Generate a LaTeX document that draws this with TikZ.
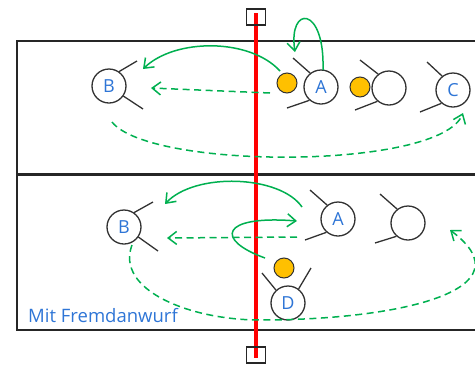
\documentclass[tikz,border=0pt]{standalone}
\usepackage{fontspec}
\setmainfont{Open Sans}
\usetikzlibrary{arrows.meta}
\definecolor{grn}{RGB}{0,176,80}
\definecolor{lblue}{RGB}{46,117,214}
\definecolor{ballc}{RGB}{255,192,0}
\definecolor{ink}{RGB}{50,50,50}
\begin{document}
\begin{tikzpicture}[x=1pt,y=-1pt,
  player/.style={circle,draw=ink,line width=1.3pt,fill=white,minimum size=34pt,inner sep=0pt,font=\fontsize{18}{18}\selectfont,text=lblue},
  arm/.style={draw=ink,line width=1.3pt},
  ballst/.style={circle,draw=ink,line width=1pt,fill=ballc,minimum size=20pt,inner sep=0pt},
  pass/.style={grn,line width=1.5pt,-{Straight Barb[length=8.5pt,width=13pt]}},
  run/.style={pass,dash pattern=on 7pt off 4.5pt},
  court/.style={draw=black!85},
  post/.style={draw=black!85,line width=1.2pt,minimum width=19pt,minimum height=16pt,inner sep=0pt}
]
\clip (0,0) rectangle (475,365);
\useasboundingbox (0,0) rectangle (475,365);
% court
\draw[court,line width=2pt] (485,41) -- (17,41) -- (17,330) -- (485,330);
\draw[court,line width=3pt] (17,174) -- (485,174);
% red line and posts
\coordinate (rt) at (256,13);
\coordinate (rb) at (256,358);
\draw[red,line width=3.5pt] (rt) -- (rb);
\node[post] (sqT) at (256,17) {};
\node[post] (sqB) at (256,355) {};
% top court players
\node[player] (B) at (109,86) {B};
\draw[arm] (B.55) -- (137,61);
\draw[arm] (B.-35) -- (143,109);
\node[player] (A) at (321,87) {A};
\draw[arm] (293,58) -- (A.128);
\draw[arm] (287,108) -- (A.229);
\node[player] (P2) at (389,88) {};
\draw[arm] (360,60) -- (P2.128);
\draw[arm] (355,110) -- (P2.229);
\node[player] (C) at (453,90) {C};
\draw[arm] (427,62) -- (C.128);
\draw[arm] (420,112) -- (C.229);
\node[ballst] (b1) at (287,83) {};
\node[ballst] (b2) at (360,87) {};
% bottom court players
\node[player] (B2) at (124,227) {B};
\draw[arm] (B2.55) -- (153,202);
\draw[arm] (B2.-35) -- (158,251);
\node[player] (A2) at (338,219) {A};
\draw[arm] (310,190) -- (A2.128);
\draw[arm] (305,240) -- (A2.229);
\node[player] (P3) at (408,223) {};
\draw[arm] (380,194) -- (P3.128);
\draw[arm] (375,243) -- (P3.229);
\node[player] (D) at (288,303) {D};
\draw[arm] (262,273) -- (D.133);
\draw[arm] (311,268) -- (D.53);
\node[ballst] (b3) at (284,268) {};
% top arrows
\coordinate (t1s) at (280,71);
\coordinate (t1e) at (143,69);
\draw[pass] (t1s) .. controls (250,38) and (175,38) .. (t1e);
\coordinate (t2s) at (270,93);
\coordinate (t2e) at (151,88);
\draw[run] (t2s) -- (t2e);
\coordinate (t3s) at (112,122);
\coordinate (t3e) at (463,113);
\draw[run] (t3s) .. controls (150,170) and (440,170) .. (t3e);
\coordinate (t4s) at (323,70);
\coordinate (t4e) at (295,52);
\draw[pass] (t4s) .. controls (325,5) and (288,5) .. (t4e);
% bottom arrows
\coordinate (u1s) at (302,207);
\coordinate (u1e) at (165,204);
\draw[pass] (u1s) .. controls (280,175) and (195,172) .. (u1e);
\coordinate (u2s) at (297,237);
\coordinate (u2e) at (167,238);
\draw[run] (u2s) -- (u2e);
\coordinate (u3s) at (265,258);
\coordinate (u3e) at (297,221);
\draw[pass] (u3s) .. controls (215,240) and (220,215) .. (u3e);
\coordinate (u4s) at (132,245);
\coordinate (u4m) at (260,320);
\coordinate (u4e) at (450,230);
\draw[run] (u4s) .. controls (115,290) and (190,320) .. (u4m) .. controls (400,320) and (530,290) .. (u4e);
% label
\node[anchor=base west,inner sep=0pt,text=lblue,font=\fontsize{18.5}{18.5}\selectfont] (lbl) at (28,322.5) {Mit Fremdanwurf};
\end{tikzpicture}
\end{document}
